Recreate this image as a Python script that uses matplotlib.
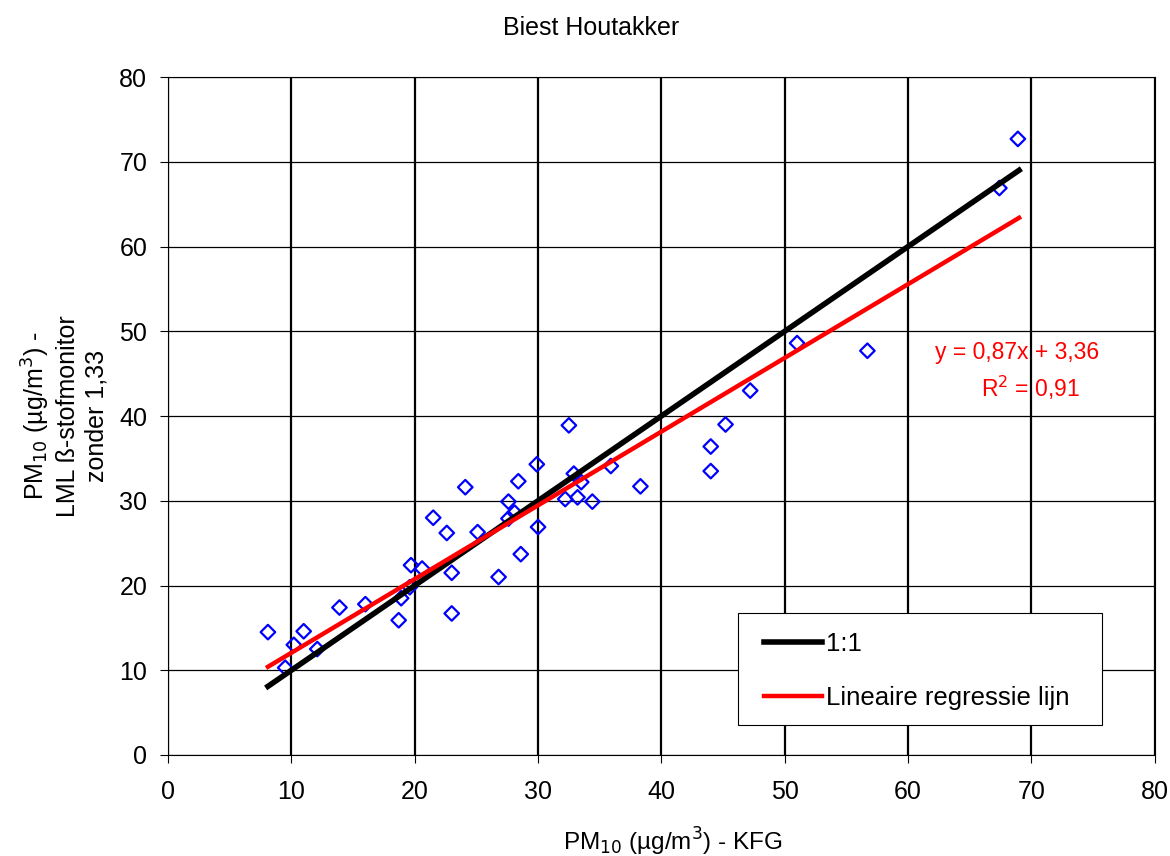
import matplotlib.pyplot as plt
import matplotlib.patches as mpatches
import numpy as np

plt.rcParams['font.family'] = ['Liberation Sans', 'DejaVu Sans']

# KFG vs beta-monitor
kfg = [8.1, 9.5, 10.2, 11.0, 12.1, 13.9, 16.0, 18.7, 18.9, 19.6, 19.7, 20.6,
       21.5, 22.6, 23.0, 23.0, 24.1, 25.1, 26.8, 27.6, 27.6, 28.1, 28.4, 28.6,
       29.9, 30.0, 32.5, 32.2, 32.9, 33.2, 33.5, 34.4, 35.9, 38.3, 44.0, 44.0,
       45.2, 47.2, 51.0, 56.7, 67.4, 68.9]
lml = [14.5, 10.3, 13.0, 14.6, 12.5, 17.4, 17.8, 15.9, 18.5, 19.8, 22.4, 22.0,
       28.0, 26.2, 21.5, 16.7, 31.6, 26.3, 21.0, 29.9, 27.9, 28.6, 32.3, 23.7,
       34.3, 26.9, 38.9, 30.2, 33.2, 30.4, 32.2, 29.9, 34.1, 31.7, 36.4, 33.5,
       39.0, 43.0, 48.6, 47.7, 66.9, 72.7]
slope, intercept = 0.87, 3.36
line_x = [8.1, 69.0]

fig = plt.figure(figsize=(11.7, 8.56), dpi=100)
ax = fig.add_axes([0.1436, 0.118, 0.8434, 0.792])

ax.set_xlim(0, 80)
ax.set_ylim(0, 80)
ax.set_xticks(np.arange(0, 81, 10))
ax.set_yticks(np.arange(0, 81, 10))
ax.tick_params(labelsize=18, direction='out', length=6, width=0.8)
ax.tick_params(axis='x', pad=12)
ax.tick_params(axis='y', pad=9)
ax.xaxis.grid(True, color='black', lw=1.6)
ax.yaxis.grid(True, color='black', lw=0.9)
ax.set_axisbelow(True)
for s in ax.spines.values():
    s.set_linewidth(0.8)

ax.scatter(kfg, lml, marker='D', s=55, facecolors='none', edgecolors='#0000ff',
           linewidths=1.6, zorder=3)
ax.plot(line_x, line_x, color='black', lw=4, label='1:1', zorder=4)
reg_y = [slope * v + intercept for v in line_x]
ax.plot(line_x, reg_y, color='#ff0000', lw=3.2, label='Lineaire regressie lijn', zorder=5)

ax.text(68.85, 47.55, 'y = 0,87x + 3,36', color='#ff0000', fontsize=16.5, ha='center', va='center')
ax.text(69.95, 43.3, 'R$^2$ = 0,91', color='#ff0000', fontsize=16.5, ha='center', va='center')

# legend frame drawn separately so the entries can be indented
frame = mpatches.Rectangle((0.5775, 0.0442), 0.369, 0.1652, transform=ax.transAxes,
                           facecolor='white', edgecolor='black', lw=0.8, zorder=6)
ax.add_patch(frame)
leg = ax.legend(loc='upper left', bbox_to_anchor=(0.6039, 0.182), fontsize=18.5,
                handlelength=2.25, frameon=False, borderpad=0.0, labelspacing=1.2,
                handletextpad=0.15, borderaxespad=0.0)
leg.set_zorder(7)

fig.text(0.505, 0.967, 'Biest Houtakker', fontsize=18, ha='center', va='center')
ax.set_xlabel('PM$_{10}$ (µg/m$^3$) - KFG', fontsize=17.5)
ax.xaxis.set_label_coords(0.512, -0.104)
ax.set_ylabel('PM$_{10}$ (µg/m$^3$) -\nLML ß-stofmonitor\nzonder 1,33', fontsize=18,
              labelpad=8, linespacing=1.2)

fig.savefig('out.png', dpi=100)
